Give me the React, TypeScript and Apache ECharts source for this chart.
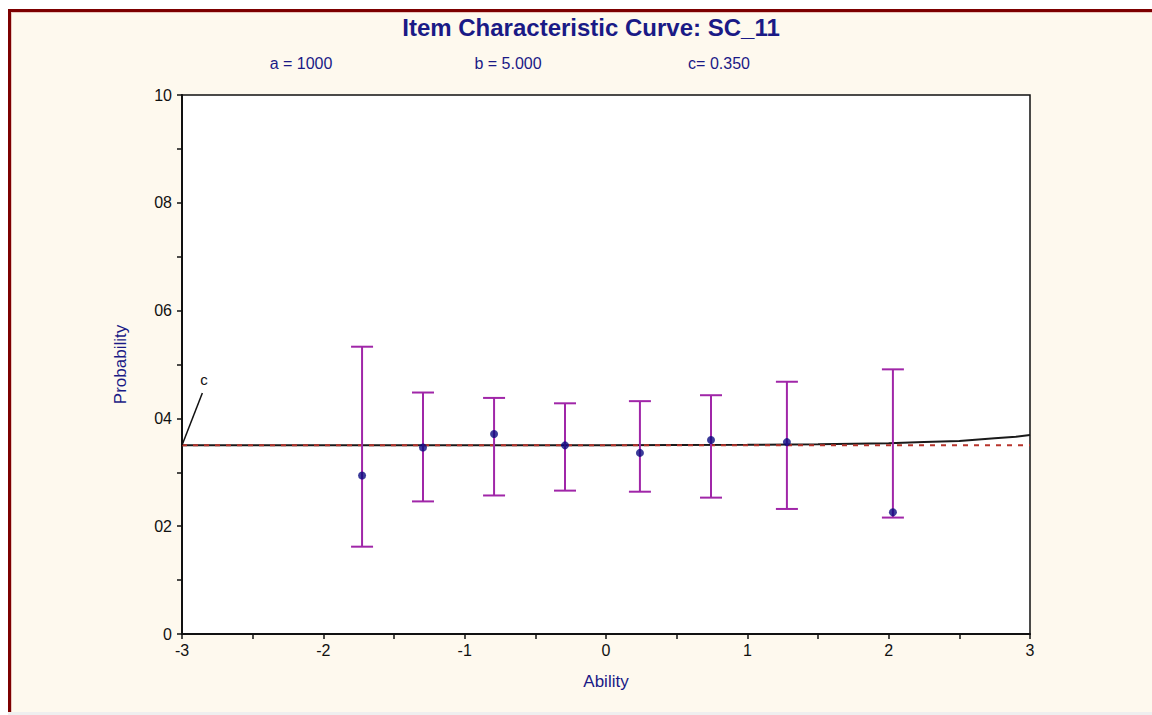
import React, { useEffect, useRef } from "react";
import * as echarts from "echarts";

const titleText = "Item Characteristic Curve: SC_11";
const paramTexts = ["a = 1000", "b = 5.000", "c= 0.350"];
const yTickLabels: Record<string, string> = { "0": "0", "0.2": "02", "0.4": "04", "0.6": "06", "0.8": "08", "1": "10" };

// observed points: ability, proportion, low, high
const ability = [-1.726, -1.295, -0.792, -0.29, 0.24, 0.743, 1.28, 2.03];
const observed = [0.294, 0.346, 0.371, 0.35, 0.336, 0.36, 0.356, 0.226];
const lowCI = [0.162, 0.246, 0.257, 0.266, 0.264, 0.253, 0.232, 0.216];
const highCI = [0.533, 0.448, 0.438, 0.428, 0.432, 0.443, 0.468, 0.491];

// ICC
const curveX = [-3, -2, -1, 0, 1, 1.5, 1.75, 2, 2.25, 2.5, 2.75, 2.9, 3];
const curveY = [0.35, 0.35, 0.35, 0.35, 0.351, 0.352, 0.353, 0.354, 0.356, 0.358, 0.363, 0.366, 0.369];

const cLevel = 0.35;
const cLeader = [[-3, 0.35], [-2.856, 0.447]];

export default function App() {
  const ref = useRef<HTMLDivElement>(null);
  useEffect(() => {
    const chart = echarts.init(ref.current!, undefined, { renderer: "svg" });
    const navy = "#1a1a86";
    const font = "'Liberation Sans', Arial, sans-serif";
    const errData = ability.map((a, i) => [a, lowCI[i], highCI[i]]);
    chart.setOption({
      animation: false,
      backgroundColor: "#ffffff",
      graphic: [
        { type: "rect", z: -10, shape: { x: 8, y: 9, width: 1144, height: 704 }, style: { fill: "#7d0000" } },
        { type: "rect", z: -10, shape: { x: 11, y: 12, width: 1141, height: 700 }, style: { fill: "#e9c6bf" } },
        { type: "rect", z: -10, shape: { x: 12, y: 13, width: 1140, height: 699 }, style: { fill: "#fef9ee" } },
        { type: "rect", z: -10, shape: { x: 8, y: 712, width: 1144, height: 3 }, style: { fill: "#efefef" } },
        {
          type: "text", x: 591, y: 27,
          style: { text: titleText, fill: navy, font: `bold 24px ${font}`, textAlign: "center", textVerticalAlign: "middle" },
        },
        ...paramTexts.map((t, i) => ({
          type: "text", x: [301, 508, 719][i], y: 63,
          style: { text: t, fill: navy, font: `16px ${font}`, textAlign: "center", textVerticalAlign: "middle" },
        })),
      ],
      grid: {
        left: 182, top: 95, right: 122, bottom: 81,
        show: true, backgroundColor: "#ffffff", borderColor: "#111", borderWidth: 1.5,
      },
      xAxis: {
        type: "value", min: -3, max: 3, interval: 1,
        name: "Ability", nameLocation: "middle", nameGap: 39,
        nameTextStyle: { color: navy, fontSize: 17, fontFamily: font },
        axisLine: { onZero: false, lineStyle: { color: "#111", width: 2 } },
        axisTick: { show: true, length: 5, lineStyle: { color: "#111", width: 1.5 } },
        minorTick: { show: true, splitNumber: 2, length: 5, lineStyle: { color: "#111", width: 1.5 } },
        splitLine: { show: false },
        axisLabel: { color: "#111", fontSize: 16, fontFamily: font, margin: 8 },
      },
      yAxis: {
        type: "value", min: 0, max: 1, interval: 0.2,
        name: "Probability", nameLocation: "middle", nameGap: 53,
        nameTextStyle: { color: navy, fontSize: 17, fontFamily: font },
        axisLine: { onZero: false, lineStyle: { color: "#111", width: 2 } },
        axisTick: { show: true, length: 5, lineStyle: { color: "#111", width: 1.5 } },
        minorTick: { show: true, splitNumber: 2, length: 5, lineStyle: { color: "#111", width: 1.5 } },
        splitLine: { show: false },
        axisLabel: {
          color: "#111", fontSize: 16, fontFamily: font, margin: 10,
          formatter: (v: number) => yTickLabels[String(Math.round(v * 10) / 10)] ?? String(v),
        },
      },
      series: [
        {
          type: "line", data: curveX.map((x, i) => [x, curveY[i]]), showSymbol: false,
          lineStyle: { color: "#1a1a1a", width: 2 }, z: 2,
        },
        {
          type: "line", data: [[-3, cLevel], [3, cLevel]], showSymbol: false,
          lineStyle: { color: "#b8342c", width: 2, type: [5, 6] }, z: 3,
        },
        {
          type: "line", data: cLeader, showSymbol: false, symbol: "none",
          lineStyle: { color: "#111", width: 1.5 }, z: 4,
          endLabel: { show: true, formatter: "c", color: "#111", fontSize: 15, fontFamily: font, offset: [-10, -14] },
        },
        {
          type: "custom", data: errData, z: 5,
          renderItem: (params: any, api: any) => {
            const x = api.value(0);
            const lo = api.coord([x, api.value(1)]);
            const hi = api.coord([x, api.value(2)]);
            const hw = 11;
            const style = { stroke: "#a026a8", lineWidth: 2 };
            return {
              type: "group",
              children: [
                { type: "line", shape: { x1: lo[0], y1: lo[1], x2: hi[0], y2: hi[1] }, style },
                { type: "line", shape: { x1: lo[0] - hw, y1: lo[1], x2: lo[0] + hw, y2: lo[1] }, style },
                { type: "line", shape: { x1: hi[0] - hw, y1: hi[1], x2: hi[0] + hw, y2: hi[1] }, style },
              ],
            };
          },
        },
        {
          type: "scatter", data: ability.map((a, i) => [a, observed[i]]), symbol: "circle", symbolSize: 8,
          itemStyle: { color: "#0a0a80" }, z: 6,
        },
      ],
    });
    return () => chart.dispose();
  }, []);
  return <div ref={ref} style={{ position: "absolute", left: 0, top: 0, width: 1152, height: 715 }} />;
}
